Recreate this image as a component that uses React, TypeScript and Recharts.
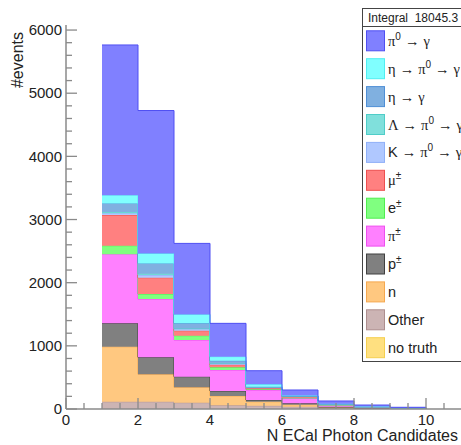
import React from 'react';
import { ComposedChart, Area, XAxis, YAxis, Legend } from 'recharts';

// Histogram bins: lower edges of the filled bins, plus the closing edge
const binLowEdges = [1, 2, 3, 4, 5, 6, 7, 8, 9];
const binUpperEdge = 10;

// Per-bin counts for each photon-candidate origin
const pi0ToGamma = [2378, 2263, 1124, 528, 215, 89, 43, 25, 11];
const etaToPi0ToGamma = [131, 158, 142, 64, 38, 7, 5, 3, 1];
const etaToGamma = [135, 165, 80, 40, 13, 5, 3, 1, 1];
const lambdaToPi0ToGamma = [20, 20, 12, 8, 3, 2, 1, 0, 0];
const kaonToPi0ToGamma = [30, 42, 25, 15, 5, 3, 1, 0, 0];
const muons = [485, 258, 79, 41, 20, 18, 10, 6, 2];
const electrons = [133, 80, 68, 43, 12, 8, 3, 2, 1];
const chargedPions = [1096, 922, 581, 332, 158, 79, 27, 15, 8];
const protons = [371, 269, 168, 79, 27, 22, 10, 3, 1];
const neutrons = [870, 434, 243, 146, 65, 32, 12, 5, 1];
const other = [115, 115, 100, 60, 50, 36, 12, 3, 1];
const noTruth = [0, 0, 0, 0, 0, 0, 0, 0, 0];

// Axis ticks
const xTicks = [0, 0.5, 1, 1.5, 2, 2.5, 3, 3.5, 4, 4.5, 5, 5.5, 6, 6.5, 7, 7.5, 8, 8.5, 9, 9.5, 10, 10.5, 11];
const xLabelledTicks = [0, 2, 4, 6, 8, 10];
const yLabelledTicks = [0, 1000, 2000, 3000, 4000, 5000, 6000];
const yMinorStep = 200;
const yTicks = Array.from({ length: 6000 / yMinorStep + 1 }, (_, i) => i * yMinorStep);

const xTitle = 'N ECal Photon Candidates';
const yTitle = '#events';
const integralText = 'Integral  18045.3';

// Legend order, top to bottom (the stack is built in the reverse order)
const series = [
  { key: 'pi0', label: 'π^0 → γ', data: pi0ToGamma, fill: '#8080ff', stroke: '#4f4ff2' },
  { key: 'etaPi0', label: 'η → π^0 → γ', data: etaToPi0ToGamma, fill: '#80ffff', stroke: '#4feef2' },
  { key: 'eta', label: 'η → γ', data: etaToGamma, fill: '#80b0e0', stroke: '#4f8fd6' },
  { key: 'lambda', label: 'Λ → π^0 → γ', data: lambdaToPi0ToGamma, fill: '#80e0dc', stroke: '#4fcdc8' },
  { key: 'kaon', label: 'K → π^0 → γ', data: kaonToPi0ToGamma, fill: '#b0c8ff', stroke: '#8fb0f8' },
  { key: 'mu', label: 'μ^±', data: muons, fill: '#ff8080', stroke: '#ee4f4f' },
  { key: 'e', label: 'e^±', data: electrons, fill: '#80ff80', stroke: '#4fee4f' },
  { key: 'pi', label: 'π^±', data: chargedPions, fill: '#ff80ff', stroke: '#ee4fee' },
  { key: 'p', label: 'p^±', data: protons, fill: '#808080', stroke: '#404040' },
  { key: 'n', label: 'n', data: neutrons, fill: '#ffc880', stroke: '#f5a84f' },
  { key: 'other', label: 'Other', data: other, fill: '#ccb4b4', stroke: '#ad8e8e' },
  { key: 'none', label: 'no truth', data: noTruth, fill: '#ffe080', stroke: '#f5cf4f' },
];

const stackOrder = [...series].reverse();

const rows = [
  ...binLowEdges.map((x, i) => {
    const row: Record<string, number> = { x };
    series.forEach((s) => (row[s.key] = s.data[i]));
    return row;
  }),
  (() => {
    const row: Record<string, number> = { x: binUpperEdge };
    series.forEach((s) => (row[s.key] = 0));
    return row;
  })(),
];

const SANS = "'Liberation Sans', Arial, Helvetica, sans-serif";
const SERIF = "'Liberation Serif', 'Times New Roman', serif";
const AXIS = '#8a8a8a';
const TEXT = '#222';

const XTick = (props: any) => {
  const { x, y, payload } = props;
  const v = payload.value as number;
  const major = xLabelledTicks.includes(v);
  return (
    <g>
      <line x1={x} x2={x} y1={y} y2={y - (major ? 11 : 6)} stroke={AXIS} strokeWidth={1.3} />
      {major && (
        <text x={x} y={y + 16} textAnchor="middle" fontFamily={SANS} fontSize={15} fill={TEXT}>
          {v}
        </text>
      )}
    </g>
  );
};

const YTick = (props: any) => {
  const { x, y, payload } = props;
  const v = payload.value as number;
  const major = yLabelledTicks.includes(v);
  return (
    <g>
      <line x1={x} x2={x + (major ? 11 : 6)} y1={y} y2={y} stroke={AXIS} strokeWidth={1.3} />
      {major && (
        <text x={x - 4} y={y} dy="0.35em" textAnchor="end" fontFamily={SANS} fontSize={15} fill={TEXT}>
          {v}
        </text>
      )}
    </g>
  );
};

// Splits a label such as "π^0 → γ" into tspans: ^x is raised, Greek letters and arrows use a serif face
const LabelText = ({ x, y, text }: { x: number; y: number; text: string }) => {
  const parts: React.ReactNode[] = [];
  let raised = false;
  for (let i = 0; i < text.length; i++) {
    const ch = text[i];
    if (ch === '^' && i + 1 < text.length) {
      parts.push(
        <tspan key={i} fontSize={10} dy={-6} fontFamily={SANS}>
          {text[i + 1]}
        </tspan>
      );
      raised = true;
      i++;
      continue;
    }
    const special = /[α-ωΑ-Ω→]/.test(ch);
    parts.push(
      <tspan key={i} dy={raised ? 6 : undefined} fontFamily={special ? SERIF : SANS}>
        {ch}
      </tspan>
    );
    raised = false;
  }
  return (
    <text x={x} y={y} fontSize={14.5} fill={TEXT} fontFamily={SANS} style={{ whiteSpace: 'pre' }}>
      {parts}
    </text>
  );
};

const LegendBox = () => {
  const left = 362.5;
  const top = 8.5;
  const rowH = 27.9;
  const firstCy = 40.8;
  return (
    <svg width={480} height={445} style={{ position: 'absolute', left: 0, top: 0, overflow: 'visible' }}>
      <rect x={left} y={top} width={140} height={353} fill="#fff" stroke="#444" strokeWidth={1} />
      <line x1={left} x2={left + 140} y1={26.5} y2={26.5} stroke="#444" strokeWidth={1} />
      <text x={368} y={22} fontFamily={SANS} fontSize={12} fill={TEXT} style={{ whiteSpace: 'pre' }}>
        {integralText}
      </text>
      {series.map((s, i) => {
        const cy = firstCy + i * rowH;
        return (
          <g key={s.key}>
            <rect x={366.5} y={cy - 10} width={18} height={20} fill={s.fill} stroke={s.stroke} strokeWidth={1} />
            <LabelText x={388} y={cy + 5} text={s.label} />
          </g>
        );
      })}
    </svg>
  );
};

export default function App() {
  return (
    <div style={{ position: 'fixed', left: 0, top: 0, width: 461, height: 445, overflow: 'hidden', background: '#fff' }}>
      <ComposedChart
        width={480}
        height={445}
        data={rows}
        margin={{ top: 25, right: 18, bottom: 0, left: 0 }}
      >
        <XAxis
          dataKey="x"
          type="number"
          domain={[0, 11]}
          ticks={xTicks}
          interval={0}
          tickSize={0}
          tickMargin={0}
          tickLine={false}
          tick={<XTick />}
          height={36}
          axisLine={{ stroke: AXIS, strokeWidth: 1.5 }}
          allowDataOverflow
          label={{
            content: (p: any) => {
              const vb = p.viewBox;
              return (
                <text x={vb.x + vb.width - 4} y={vb.y + 32} textAnchor="end" fontFamily={SANS} fontSize={16} fill={TEXT}>
                  {xTitle}
                </text>
              );
            },
          }}
        />
        <XAxis
          xAxisId="frameTop"
          orientation="top"
          type="number"
          domain={[0, 11]}
          height={0}
          tick={false}
          tickLine={false}
          axisLine={{ stroke: '#555', strokeWidth: 1 }}
        />
        <YAxis
          type="number"
          domain={[0, 6080]}
          ticks={yTicks}
          interval={0}
          width={66}
          tickSize={0}
          tickMargin={0}
          tickLine={false}
          tick={<YTick />}
          axisLine={{ stroke: AXIS, strokeWidth: 1.5 }}
          allowDataOverflow
          label={{
            content: (p: any) => {
              const vb = p.viewBox;
              const x = 23;
              const y = vb.y + 7;
              return (
                <text x={x} y={y} textAnchor="end" transform={`rotate(-90, ${x}, ${y})`} fontFamily={SANS} fontSize={16} fill={TEXT}>
                  {yTitle}
                </text>
              );
            },
          }}
        />
        {stackOrder
          .filter((s) => s.data.some((v) => v > 0))
          .map((s) => (
            <Area
              key={s.key}
              dataKey={s.key}
              name={s.label}
              stackId="stack"
              type="stepAfter"
              fill={s.fill}
              fillOpacity={1}
              stroke={s.stroke}
              strokeWidth={1}
              isAnimationActive={false}
              dot={false}
              activeDot={false}
            />
          ))}
        <Legend
          layout="horizontal"
          verticalAlign="middle"
          align="center"
          wrapperStyle={{ left: 0, top: 0, width: 480, height: 445, pointerEvents: 'none' }}
          content={() => <LegendBox />}
        />
      </ComposedChart>
    </div>
  );
}
